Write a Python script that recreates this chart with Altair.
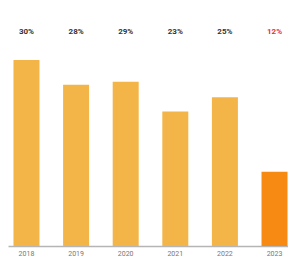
import altair as alt
import pandas as pd

years = ["2018", "2019", "2020", "2021", "2022", "2023"]
values = [30, 26, 26.5, 21.7, 24, 12]
labels = ["30%", "28%", "29%", "23%", "25%", "12%"]
highlight = [False, False, False, False, False, True]

df = pd.DataFrame({"year": years, "value": values, "label": labels, "hl": highlight})

x = alt.X("year:N", sort=None,
          scale=alt.Scale(paddingInner=0.476, paddingOuter=0.06, align=0.92),
          axis=alt.Axis(title=None, labelAngle=0, ticks=False, labelFontSize=7,
                        labelColor="#777777", labelPadding=3,
                        domainColor="#b5b5b5", domainWidth=1.5, labelFont="Roboto"))

bars = alt.Chart(df).mark_bar().encode(
    x=x,
    y=alt.Y("value:Q", scale=alt.Scale(domain=[0, 38.4]), axis=None),
    color=alt.Color("hl:N", scale=alt.Scale(domain=[False, True], range=["#F4B548", "#F68A12"]), legend=None),
)

text = alt.Chart(df).mark_text(fontSize=8, fontWeight="bold", font="Roboto").encode(
    x=x,
    y=alt.value(24),
    text="label:N",
    color=alt.Color("hl:N", scale=alt.Scale(domain=[False, True], range=["#333333", "#E8303C"]), legend=None),
)

chart = alt.layer(bars, text).properties(
    width=280, height=238, padding={"left": 0, "top": 0, "right": 0, "bottom": 0}
).configure_view(stroke=None).resolve_scale(color="independent")

chart.save("out.html", embed_options={"renderer": "svg", "actions": False})
